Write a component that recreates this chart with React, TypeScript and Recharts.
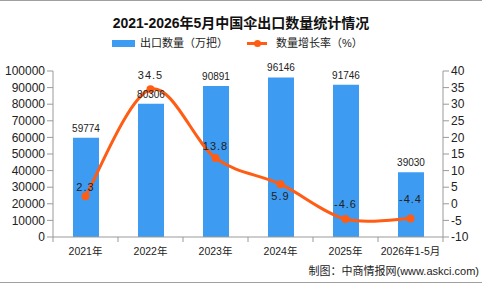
import React from 'react';
import { ComposedChart, Bar, Line, XAxis, YAxis, LabelList } from 'recharts';

// 2021–2026年5月 中国伞出口数量与同比增长率
const years = ['2021年', '2022年', '2023年', '2024年', '2025年', '2026年1-5月'];
const exportQty = [59774, 80306, 90891, 96146, 91746, 39030];
const growthRate = [2.3, 34.5, 13.8, 5.9, -4.6, -4.4];

const qtyTicks = [0, 10000, 20000, 30000, 40000, 50000, 60000, 70000, 80000, 90000, 100000];
const rateTicks = [-10, -5, 0, 5, 10, 15, 20, 25, 30, 35, 40];

const data = years.map((name, i) => ({ name, qty: exportQty[i], rate: growthRate[i] }));

const W = 482;
const H = 284;
const PLOT_LEFT = 53;
const PLOT_RIGHT = 443;
const BAND = (PLOT_RIGHT - PLOT_LEFT) / years.length;

const BAR_COLOR = '#3d9cf2';
const LINE_COLOR = '#ff5c14';
const AXIS_COLOR = '#9a9a9a';
const FONT = "'Liberation Sans', 'Noto Sans CJK SC', sans-serif";

// Catmull-Rom style smoothing (1/6 control handles), like office-chart smooth lines
const smoothCurve = (context: any) => {
  let pts: number[][] = [];
  return {
    areaStart() {},
    areaEnd() {},
    lineStart() {
      pts = [];
    },
    point(x: number, y: number) {
      pts.push([+x, +y]);
    },
    lineEnd() {
      if (!pts.length) return;
      context.moveTo(pts[0][0], pts[0][1]);
      for (let i = 0; i < pts.length - 1; i++) {
        const p0 = pts[i - 1] || pts[i];
        const p1 = pts[i];
        const p2 = pts[i + 1];
        const p3 = pts[i + 2] || pts[i + 1];
        context.bezierCurveTo(
          p1[0] + (p2[0] - p0[0]) / 6,
          p1[1] + (p2[1] - p0[1]) / 6,
          p2[0] - (p3[0] - p1[0]) / 6,
          p2[1] - (p3[1] - p1[1]) / 6,
          p2[0],
          p2[1]
        );
      }
    },
  };
};

// vertical offset of each growth label relative to its dot
const rateLabelDy = [-9, -14, -12, 12, -15, -19];

const RateLabel = (props: any) => {
  const { x, y, index, value } = props;
  return (
    <text
      x={x}
      y={y + rateLabelDy[index]}
      textAnchor="middle"
      dominantBaseline="central"
      fontSize={11}
      letterSpacing={1}
      fill="#222"
      fontFamily={FONT}
    >
      {value}
    </text>
  );
};

// category label + tick marks on the band boundaries
const XTick = (props: any) => {
  const { x, y, payload, index } = props;
  const left = x - BAND / 2;
  return (
    <g>
      <line x1={left} y1={y - 8} x2={left} y2={y - 3} stroke={AXIS_COLOR} />
      {index === years.length - 1 && (
        <line x1={x + BAND / 2} y1={y - 8} x2={x + BAND / 2} y2={y - 3} stroke={AXIS_COLOR} />
      )}
      <text x={x} y={y + 6} textAnchor="middle" dominantBaseline="central" fontSize={10.5} fill="#222" fontFamily={FONT}>
        {payload.value}
      </text>
    </g>
  );
};

export default function App() {
  return (
    <div
      style={{
        position: 'absolute',
        left: 0,
        top: 0,
        width: W,
        height: H,
        overflow: 'hidden',
        background: '#fff',
        fontFamily: FONT,
      }}
    >
      <div style={{ position: 'absolute', left: 0, top: 0, width: W, height: 1, background: '#a0a0a0' }} />
      <div style={{ position: 'absolute', left: 0, top: 282, width: W, height: 1, background: '#a0a0a0' }} />

      <div
        style={{
          position: 'absolute',
          top: 14,
          width: W,
          textAlign: 'center',
          fontSize: 14,
          fontWeight: 'bold',
          color: '#111',
          lineHeight: '18px',
        }}
      >
        2021-2026年5月中国伞出口数量统计情况
      </div>

      <div style={{ position: 'absolute', top: 36, left: 112, display: 'flex', alignItems: 'center', fontSize: 11, color: '#222', lineHeight: '14px' }}>
        <span style={{ display: 'inline-block', width: 23, height: 7, background: BAR_COLOR, marginRight: 5 }} />
        <span>出口数量（万把）</span>
        <span style={{ position: 'relative', display: 'inline-block', width: 20, height: 12, marginLeft: 19, marginRight: 9 }}>
          <span style={{ position: 'absolute', left: 0, top: 5, width: 20, height: 2.5, background: LINE_COLOR }} />
          <span style={{ position: 'absolute', left: 6.5, top: 2.5, width: 7, height: 7, borderRadius: '50%', background: LINE_COLOR }} />
        </span>
        <span>数量增长率（%）</span>
      </div>

      <div style={{ position: 'absolute', left: 0, top: 0 }}>
        <ComposedChart width={W} height={H} data={data} margin={{ top: 71, right: 3, bottom: 22, left: 3 }}>
          <XAxis
            dataKey="name"
            xAxisId={0}
            height={25}
            axisLine={{ stroke: AXIS_COLOR }}
            tickLine={false}
            interval={0}
            tick={<XTick />}
          />
          <YAxis
            yAxisId="qty"
            width={50}
            domain={[0, 100000]}
            ticks={qtyTicks}
            interval={0}
            axisLine={{ stroke: AXIS_COLOR }}
            tickLine={{ stroke: AXIS_COLOR }}
            tick={{ fontSize: 12, fill: '#222', fontFamily: FONT }}
          />
          <YAxis
            yAxisId="rate"
            orientation="right"
            width={36}
            domain={[-10, 40]}
            ticks={rateTicks}
            interval={0}
            axisLine={{ stroke: AXIS_COLOR }}
            tickLine={{ stroke: AXIS_COLOR }}
            tick={{ fontSize: 12, fill: '#222', fontFamily: FONT }}
          />
          <Bar yAxisId="qty" dataKey="qty" fill={BAR_COLOR} barSize={26} isAnimationActive={false}>
            <LabelList dataKey="qty" position="top" offset={6} fontSize={10} fill="#222" fontFamily={FONT} />
          </Bar>
          <Line
            yAxisId="rate"
            dataKey="rate"
            type={smoothCurve as any}
            stroke={LINE_COLOR}
            strokeWidth={3}
            dot={{ r: 4, fill: LINE_COLOR, stroke: LINE_COLOR, strokeWidth: 0 }}
            activeDot={false}
            isAnimationActive={false}
          >
            <LabelList dataKey="rate" content={<RateLabel />} />
          </Line>
        </ComposedChart>
      </div>

      <div style={{ position: 'absolute', top: 264, right: 3, fontSize: 11, color: '#222', whiteSpace: 'nowrap', lineHeight: '15px' }}>
        制图：中商情报网(www.askci.com)
      </div>
    </div>
  );
}
